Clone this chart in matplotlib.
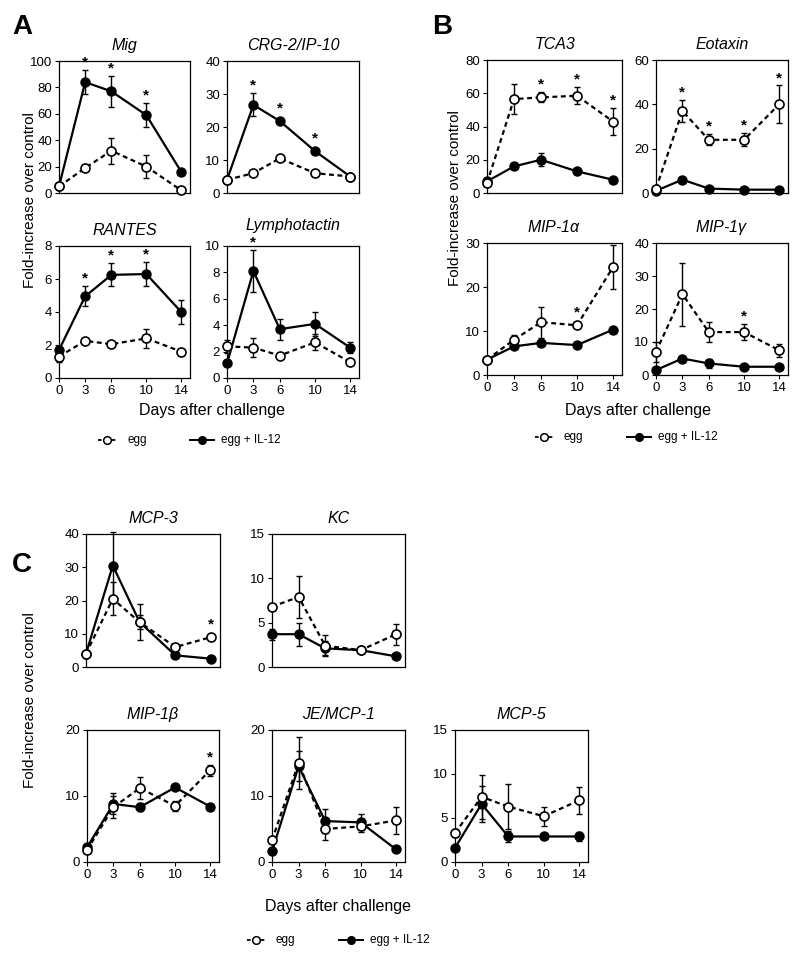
import numpy as np
import matplotlib
matplotlib.use("Agg")
import matplotlib.pyplot as plt
from matplotlib.lines import Line2D

plt.rcParams['font.family'] = ['Liberation Sans', 'DejaVu Sans']
plt.rcParams['mathtext.fontset'] = 'custom'
plt.rcParams['mathtext.it'] = 'Liberation Sans:italic'
plt.rcParams['mathtext.rm'] = 'Liberation Sans'

days = [0, 3, 6, 10, 14]
xticks = [0, 3, 6, 10, 14]

# ---- Panel A ----
mig_egg = [5, 19, 32, 20, 2]
mig_egg_err = [0, 0, 10, 9, 0]
mig_il12 = [5, 84, 77, 59, 16]
mig_il12_err = [0, 9, 12, 9, 0]
mig_stars = [3, 6, 10]

crg_egg = [4, 6, 10.5, 6, 5]
crg_egg_err = [0, 0, 0, 0, 0]
crg_il12 = [4, 26.7, 21.8, 12.7, 5]
crg_il12_err = [0, 3.5, 0, 0, 0]
crg_stars = [3, 6, 10]

rantes_egg = [1.3, 2.25, 2.05, 2.4, 1.6]
rantes_egg_err = [0.3, 0.2, 0.2, 0.6, 0]
rantes_il12 = [1.7, 4.95, 6.25, 6.3, 4.0]
rantes_il12_err = [0, 0.6, 0.7, 0.75, 0.75]
rantes_stars = [3, 6, 10]

lym_egg = [2.4, 2.3, 1.7, 2.7, 1.2]
lym_egg_err = [0.5, 0.7, 0, 0.6, 0]
lym_il12 = [1.1, 8.1, 3.7, 4.1, 2.3]
lym_il12_err = [0, 1.6, 0.8, 0.9, 0.4]
lym_stars = [3]

# ---- Panel B ----
tca3_egg = [6, 56.5, 57.5, 58.5, 43]
tca3_egg_err = [0, 9, 3, 5, 8]
tca3_il12 = [7, 16, 20, 13, 8]
tca3_il12_err = [0, 0, 4, 0, 0]
tca3_stars = [6, 10, 14]

eot_egg = [2, 37, 24, 24, 40]
eot_egg_err = [0, 5, 2.5, 3, 8.5]
eot_il12 = [1, 6, 2, 1.5, 1.5]
eot_il12_err = [0, 0, 0, 0, 0]
eot_stars = [3, 6, 10, 14]

mip1a_egg = [3.5, 8, 12, 11.3, 24.5]
mip1a_egg_err = [0, 1, 3.5, 0, 5]
mip1a_il12 = [3.5, 6.5, 7.3, 6.8, 10.3]
mip1a_il12_err = [0, 0, 0, 0, 0]
mip1a_stars = [10]

mip1g_egg = [7, 24.5, 13, 13, 7.5]
mip1g_egg_err = [3, 9.5, 3, 2.5, 2]
mip1g_il12 = [1.5, 5, 3.5, 2.5, 2.5]
mip1g_il12_err = [0, 0, 1.5, 0, 0]
mip1g_stars = [10]

# ---- Panel C ----
mcp3_egg = [4, 20.5, 13.5, 6, 9]
mcp3_egg_err = [0, 5, 5.5, 0, 0]
mcp3_il12 = [4, 30.5, 13.5, 3.5, 2.5]
mcp3_il12_err = [0, 10, 2, 0, 0]
mcp3_stars = [14]

kc_egg = [6.8, 7.9, 2.4, 1.9, 3.7]
kc_egg_err = [0, 2.4, 1.2, 0, 1.2]
kc_il12 = [3.7, 3.7, 2.1, 1.9, 1.2]
kc_il12_err = [0.6, 1.3, 0.8, 0, 0]
kc_stars = []

mip1b_egg = [1.8, 8.3, 11.2, 8.5, 13.9]
mip1b_egg_err = [0, 1.7, 1.7, 0.8, 0.8]
mip1b_il12 = [2.2, 8.8, 8.3, 11.3, 8.4]
mip1b_il12_err = [0, 1.6, 0.6, 0, 0]
mip1b_stars = [14]

je_egg = [3.3, 15, 5, 5.4, 6.3]
je_egg_err = [0, 4, 1.6, 0.8, 2]
je_il12 = [1.6, 14.5, 6.2, 6.0, 1.9]
je_il12_err = [0, 2.3, 1.8, 1.2, 0]
je_stars = []

mcp5_egg = [3.3, 7.4, 6.3, 5.2, 7.0]
mcp5_egg_err = [0.5, 2.5, 2.6, 1.1, 1.5]
mcp5_il12 = [1.6, 6.6, 2.9, 2.9, 2.9]
mcp5_il12_err = [0, 2.0, 0.6, 0, 0.5]
mcp5_stars = []

W, H = 800, 956
fig = plt.figure(figsize=(W / 100, H / 100), dpi=100)


def make_ax(l, r, t, b):
    return fig.add_axes([l / W, 1 - b / H, (r - l) / W, (b - t) / H])


def draw(ax, title, egg, egg_err, il12, il12_err, stars, ymax, ystep, xlabels, tpad=8):
    ax.plot(days, il12, color='black', lw=1.6, zorder=3)
    ax.plot(days, egg, color='black', lw=1.6, ls=(0, (2.2, 1.6)), zorder=3)
    for vals, errs in ((il12, il12_err), (egg, egg_err)):
        for x, v, e in zip(days, vals, errs):
            if e > 0:
                ax.errorbar([x], [v], yerr=[e], fmt='none', ecolor='black',
                            elinewidth=1.0, capsize=2.5, capthick=1.0, zorder=2,
                            clip_on=False)
    ax.plot(days, il12, 'o', ms=6.5, mfc='black', mec='black', zorder=4, clip_on=False)
    ax.plot(days, egg, 'o', ms=6.5, mfc='white', mec='black', mew=1.2, zorder=5, clip_on=False)
    for s in stars:
        i = days.index(s)
        cands = [(egg[i] + egg_err[i], egg_err[i] > 0), (il12[i] + il12_err[i], il12_err[i] > 0)]
        top, has_err = max(cands, key=lambda c: c[0])
        off = 2.5 if has_err else 6.0
        ax.annotate('*', xy=(s, top), xytext=(0, off), textcoords='offset points',
                    ha='center', va='baseline', fontsize=11, fontweight='bold',
                    annotation_clip=False)
    ax.set_xlim(0, 15)
    ax.set_ylim(0, ymax)
    ax.set_yticks(np.arange(0, ymax + 0.001, ystep))
    ax.set_title(title, fontsize=11.5, style='italic', pad=tpad)
    ax.tick_params(axis='y', labelsize=9.5, length=3, width=0.8, pad=2)
    if xlabels:
        ax.set_xticks(xticks)
        ax.tick_params(axis='x', labelsize=9.5, length=3, width=0.8, pad=2)
    else:
        ax.set_xticks([])
    for sp in ax.spines.values():
        sp.set_linewidth(0.9)


def legend_at(x0, y):
    fig.add_artist(Line2D([x0 / W, (x0 + 20) / W], [1 - y / H, 1 - y / H], color='black',
                          lw=1.3, ls=(0, (2, 1.8))))
    fig.add_artist(Line2D([(x0 + 9) / W], [1 - y / H], marker='o', ms=5.5, mfc='white',
                          mec='black', mew=1.1, ls='none'))
    fig.text((x0 + 29) / W, 1 - y / H, 'egg', fontsize=8.5, va='center')
    x1 = x0 + 92
    fig.add_artist(Line2D([x1 / W, (x1 + 24) / W], [1 - y / H, 1 - y / H], color='black', lw=1.4))
    fig.add_artist(Line2D([(x1 + 12) / W], [1 - y / H], marker='o', ms=5.5, mfc='black',
                          mec='black', ls='none'))
    fig.text((x1 + 31) / W, 1 - y / H, 'egg + IL-12', fontsize=8.5, va='center')


# Panel A
draw(make_ax(59, 190, 61, 193), 'Mig', mig_egg, mig_egg_err, mig_il12, mig_il12_err, mig_stars, 100, 20, False)
draw(make_ax(227, 359, 61, 193), 'CRG-2/IP-10', crg_egg, crg_egg_err, crg_il12, crg_il12_err, crg_stars, 40, 10, False)
draw(make_ax(59, 190, 246, 378), 'RANTES', rantes_egg, rantes_egg_err, rantes_il12, rantes_il12_err, rantes_stars, 8, 2, True)
draw(make_ax(227, 359, 246, 378), 'Lymphotactin', lym_egg, lym_egg_err, lym_il12, lym_il12_err, lym_stars, 10, 2, True, tpad=11.5)

# Panel B
draw(make_ax(487, 622, 60, 193), 'TCA3', tca3_egg, tca3_egg_err, tca3_il12, tca3_il12_err, tca3_stars, 80, 20, False)
draw(make_ax(656, 788, 60, 193), 'Eotaxin', eot_egg, eot_egg_err, eot_il12, eot_il12_err, eot_stars, 60, 20, False)
draw(make_ax(487, 622, 243, 375), r'MIP-1$\alpha$', mip1a_egg, mip1a_egg_err, mip1a_il12, mip1a_il12_err, mip1a_stars, 30, 10, True)
draw(make_ax(656, 788, 243, 375), r'MIP-1$\gamma$', mip1g_egg, mip1g_egg_err, mip1g_il12, mip1g_il12_err, mip1g_stars, 40, 10, True)

# Panel C
draw(make_ax(86, 220, 534, 667), 'MCP-3', mcp3_egg, mcp3_egg_err, mcp3_il12, mcp3_il12_err, mcp3_stars, 40, 10, False)
draw(make_ax(272, 405, 534, 667), 'KC', kc_egg, kc_egg_err, kc_il12, kc_il12_err, kc_stars, 15, 5, False)
draw(make_ax(87, 219, 730, 862), r'MIP-1$\beta$', mip1b_egg, mip1b_egg_err, mip1b_il12, mip1b_il12_err, mip1b_stars, 20, 10, True)
draw(make_ax(272, 405, 730, 862), 'JE/MCP-1', je_egg, je_egg_err, je_il12, je_il12_err, je_stars, 20, 10, True)
draw(make_ax(455, 588, 730, 862), 'MCP-5', mcp5_egg, mcp5_egg_err, mcp5_il12, mcp5_il12_err, mcp5_stars, 15, 5, True)

# Panel letters
fig.text(12 / W, 1 - 27 / H, 'A', fontsize=20, fontweight='bold', va='center')
fig.text(432 / W, 1 - 27 / H, 'B', fontsize=20, fontweight='bold', va='center')
fig.text(12 / W, 1 - 565 / H, 'C', fontsize=20, fontweight='bold', va='center')

# Y labels
fig.text(30 / W, 1 - 200 / H, 'Fold-increase over control', rotation=90, fontsize=11,
         ha='center', va='center')
fig.text(455 / W, 1 - 198 / H, 'Fold-increase over control', rotation=90, fontsize=11,
         ha='center', va='center')
fig.text(30 / W, 1 - 700 / H, 'Fold-increase over control', rotation=90, fontsize=11,
         ha='center', va='center')

# X labels
fig.text(212 / W, 1 - 410 / H, 'Days after challenge', fontsize=11.5, ha='center', va='center')
fig.text(638 / W, 1 - 410 / H, 'Days after challenge', fontsize=11.5, ha='center', va='center')
fig.text(338 / W, 1 - 907 / H, 'Days after challenge', fontsize=11.5, ha='center', va='center')

legend_at(98, 440)
legend_at(535, 437)
legend_at(247, 940)

fig.savefig('out.png', dpi=100)
